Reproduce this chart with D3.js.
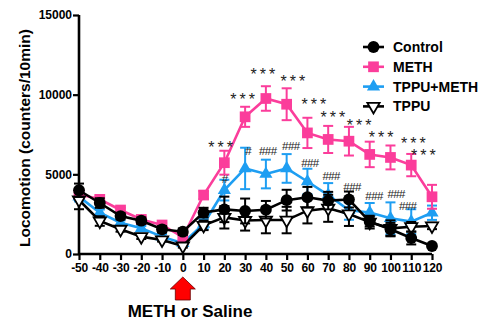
<!DOCTYPE html>
<html><head><meta charset="utf-8">
<script src="https://cdn.jsdelivr.net/npm/d3@7"></script>
<style>body{margin:0;background:#fff}svg{display:block}</style>
</head><body>
<svg id="c" width="485" height="320"></svg>
<script>
const times = [-50,-40,-30,-20,-10,0,10,20,30,40,50,60,70,80,90,100,110,120];
const controlMean = [4000,3200,2380,2090,1550,1400,2600,2800,2700,2780,3380,3560,3350,3420,2030,1550,1000,500];
const controlErr  = [420,300,200,200,200,200,300,800,780,550,650,650,550,500,300,400,400,100];
const methMean = [3750,3430,2760,2170,1820,1050,3700,5730,8610,9760,9400,7600,7190,7080,6250,6060,5580,3590];
const methErr  = [300,200,150,150,150,150,250,750,630,770,1000,950,850,900,800,750,700,750];
const tmMean = [3600,2590,1960,1610,1090,670,1880,4010,5370,5020,5370,4550,3700,2750,2600,2240,2030,2590];
const tmErr  = [300,200,150,150,150,150,300,650,1300,900,900,800,750,600,600,1000,780,450];
const tppuMean = [3390,2070,1550,1090,880,500,1800,2300,2100,2130,2130,2720,2870,2510,2000,1610,1710,1760];
const tppuErr  = [580,300,150,150,100,100,300,700,630,830,830,800,850,750,400,500,300,200];
const yTicks = [0,5000,10000,15000];
const xTicks = times;
const seriesNames = ["Control","METH","TPPU+METH","TPPU"];
// annotation anchors (minutes, counts)
const starX = [18.2,28.8,38.5,53,63.1,72.3,84.9,95.5,111,115.8];
const starY = [6830,9840,11410,10970,9530,8715,8210,7460,7080,6340];
const hashX = [20.1,31.4,40.9,52,61.2,71.4,81.5,92.1,102.7,108.3];
const hashY = [4765,6520,6520,6830,5770,4950,4260,3700,3800,3050];
const hashText = ["#","#","###","###","###","###","###","###","###","###"];

const PINK = "#fb3d9b", BLUE = "#1e9ef2", BLACK = "#000";
const svg = d3.select("#c");
const FONT = "Liberation Sans, Arial, sans-serif";
const x = d3.scaleLinear().domain([-50,120]).range([79,432]);
const y = d3.scaleLinear().domain([0,15000]).range([254,15]);

// axes
const yAxis = svg.append("g").attr("transform","translate(79,0)")
  .call(d3.axisLeft(y).tickValues(yTicks).tickFormat(d=>String(d)).tickSize(6).tickPadding(1));
const xAxis = svg.append("g").attr("transform","translate(0,254)")
  .call(d3.axisBottom(x).tickValues(xTicks).tickFormat(d=>String(d)).tickSize(6).tickPadding(3));
[yAxis,xAxis].forEach(a=>{
  a.select(".domain").attr("stroke","#000").attr("stroke-width",2.6);
  a.selectAll(".tick line").attr("stroke","#000").attr("stroke-width",2.2);
  a.selectAll(".tick text").attr("fill","#000").style("font-family",FONT).style("font-weight","bold").style("font-size","12px");
});
yAxis.select(".domain").attr("d","M0,"+y(0)+"V"+y(15000));
xAxis.select(".domain").attr("d","M"+x(-50)+",0H"+x(120));
xAxis.selectAll(".tick text").attr("letter-spacing","-0.2px");

svg.append("text").attr("transform","translate(30,138) rotate(-90)")
  .attr("text-anchor","middle").style("font-family",FONT).style("font-weight","bold").style("font-size","15.5px")
  .text("Locomotion (counters/10min)");

const line = d3.line().x((d,i)=>x(times[i])).y(d=>y(d));

function drawSeries(mean, err, color, marker){
  const g = svg.append("g");
  g.selectAll("line.eb").data(mean).join("line").attr("class","eb")
    .attr("x1",(d,i)=>x(times[i])).attr("x2",(d,i)=>x(times[i]))
    .attr("y1",(d,i)=>y(d+err[i])).attr("y2",(d,i)=>y(d-err[i]))
    .attr("stroke",color).attr("stroke-width",2);
  [1,-1].forEach(s=>{
    g.selectAll("line.cap"+s).data(mean).join("line")
      .attr("x1",(d,i)=>x(times[i])-5).attr("x2",(d,i)=>x(times[i])+5)
      .attr("y1",(d,i)=>y(d+s*err[i])).attr("y2",(d,i)=>y(d+s*err[i]))
      .attr("stroke",color).attr("stroke-width",2);
  });
  g.append("path").datum(mean).attr("d",line).attr("fill","none").attr("stroke",color).attr("stroke-width",2.6);
  g.selectAll("path.m").data(mean).join("path").attr("class","m")
    .attr("transform",(d,i)=>"translate("+x(times[i])+","+y(d)+")")
    .call(marker);
}
const mCircle = s=>s.attr("d",d3.symbol(d3.symbolCircle,110)()).attr("fill",BLACK);
const mSquare = s=>s.attr("d",d3.symbol(d3.symbolSquare,115)()).attr("fill",PINK);
const mTri = s=>s.attr("d",d3.symbol(d3.symbolTriangle,75)()).attr("fill",BLUE);
const mInv = s=>s.attr("d",d3.symbol(d3.symbolTriangle,65)()).attr("fill","#fff").attr("stroke",BLACK).attr("stroke-width",1.8)
  .attr("transform",function(){return d3.select(this).attr("transform")+" rotate(180)";});

drawSeries(tmMean,tmErr,BLUE,mTri);
drawSeries(methMean,methErr,PINK,mSquare);
drawSeries(tppuMean,tppuErr,BLACK,mInv);
drawSeries(controlMean,controlErr,BLACK,mCircle);

// annotations
svg.append("g").selectAll("text").data(starX).join("text")
  .attr("x",(d)=>x(d)+1.5).attr("y",(d,i)=>y(starY[i])+8)
  .attr("text-anchor","middle").attr("letter-spacing","3px")
  .style("font-family",FONT).style("font-size","16px").attr("fill","#222").text("***");
svg.append("g").selectAll("text").data(hashX).join("text")
  .attr("x",(d)=>x(d)).attr("y",(d,i)=>y(hashY[i])+4.5)
  .attr("text-anchor","middle").attr("letter-spacing","-0.6px")
  .style("font-family",FONT).style("font-size","11.5px").attr("fill","#222").text((d,i)=>hashText[i]);

// legend
const legColors = [BLACK,PINK,BLUE,BLACK];
const legMarkers = [mCircle,mSquare,mTri,mInv];
const leg = svg.append("g");
seriesNames.forEach((name,i)=>{
  const yy = 47 + i*19.8;
  leg.append("line").attr("x1",363).attr("x2",384).attr("y1",yy).attr("y2",yy).attr("stroke",legColors[i]).attr("stroke-width",2.6);
  leg.append("path").attr("transform","translate(373.5,"+yy+")").call(legMarkers[i]);
  leg.append("text").attr("x",393).attr("y",yy+5).style("font-family",FONT).style("font-weight","bold").style("font-size","14px").text(name);
});

// arrow
const ax = x(0);
svg.append("path").attr("d",`M${ax},277 L${ax+12.5},289 L${ax+7.5},289 L${ax+7.5},300 L${ax-7.5},300 L${ax-7.5},289 L${ax-12.5},289 Z`)
  .attr("fill","#ff0000").attr("stroke","#600").attr("stroke-width",0.8);
svg.append("text").attr("x",190).attr("y",317).attr("text-anchor","middle")
  .style("font-family",FONT).style("font-weight","bold").style("font-size","17px").text("METH or Saline");
</script>
</body></html>
